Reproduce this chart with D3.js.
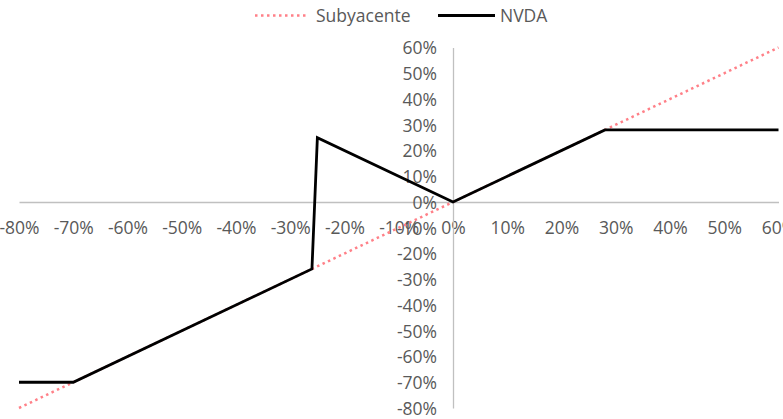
<!DOCTYPE html>
<html>
<head>
<meta charset="utf-8">
<script src="https://cdn.jsdelivr.net/npm/d3@7/dist/d3.min.js"></script>
<style>
  html, body { margin: 0; padding: 0; background: #fff; }
  svg { display: block; font-family: "Open Sans", sans-serif; }
</style>
</head>
<body>
<svg id="chart" width="783" height="419"></svg>
<script>
// Data (percent)
const xTicks = [-80, -70, -60, -50, -40, -30, -20, -10, 0, 10, 20, 30, 40, 50, 60];
const yTicks = [-80, -70, -60, -50, -40, -30, -20, -10, 0, 10, 20, 30, 40, 50, 60];
const subyacenteX = [-80, 60];
const subyacenteY = [-80, 60];
const nvdaX = [-80, -70, -26, -25, 0, 28, 60];
const nvdaY = [-70, -70, -26, 25, 0, 28, 28];
const seriesNames = ["Subyacente", "NVDA"];

const svg = d3.select("#chart");
const x = d3.scaleLinear().domain([-80, 60]).range([19, 778.5]);
const y = d3.scaleLinear().domain([-80, 60]).range([408, 47.5]);
const fmt = d => d + "%";
const textColor = "#595959";
const axisColor = "#c0c0c0";
const fontSize = "17.5px";

// x-axis line at y=0
const xAxis = svg.append("g").attr("transform", `translate(0,${y(0)})`)
  .call(d3.axisBottom(x).tickValues(xTicks).tickSize(0).tickPadding(20).tickFormat(fmt));
xAxis.select(".domain").attr("stroke", axisColor).attr("stroke-width", 1.3);
xAxis.selectAll("text").attr("fill", textColor).style("font-size", fontSize)
  .style("font-family", "'Open Sans', sans-serif");

// y-axis line at x=0
const yAxis = svg.append("g").attr("transform", `translate(${x(0)},0)`)
  .call(d3.axisLeft(y).tickValues(yTicks).tickSize(0).tickPadding(16).tickFormat(fmt));
yAxis.select(".domain").attr("stroke", axisColor).attr("stroke-width", 1.3);
yAxis.selectAll("text").attr("fill", textColor).style("font-size", fontSize)
  .style("font-family", "'Open Sans', sans-serif").attr("dy", "0.36em");

const line = d3.line().x(d => x(d[0])).y(d => y(d[1]));
const subData = subyacenteX.map((v, i) => [v, subyacenteY[i]]);
const nvdaData = nvdaX.map((v, i) => [v, nvdaY[i]]);

svg.append("path").datum(subData).attr("d", line)
  .attr("fill", "none").attr("stroke", "#ff8088").attr("stroke-width", 2.5)
  .attr("stroke-dasharray", "2.5,3.5");
svg.append("path").datum(nvdaData).attr("d", line)
  .attr("fill", "none").attr("stroke", "#000").attr("stroke-width", 2.8)
  .attr("stroke-linejoin", "miter");

// Legend
const lg = svg.append("g");
lg.append("line").attr("x1", 255).attr("x2", 307).attr("y1", 15.5).attr("y2", 15.5)
  .attr("stroke", "#ff8088").attr("stroke-width", 2.5).attr("stroke-dasharray", "2.5,3.5");
lg.append("text").attr("x", 316).attr("y", 15.5).attr("dy", "0.36em")
  .attr("fill", textColor).style("font-size", fontSize).text(seriesNames[0]);
lg.append("line").attr("x1", 438).attr("x2", 495).attr("y1", 15.5).attr("y2", 15.5)
  .attr("stroke", "#000").attr("stroke-width", 2.8);
lg.append("text").attr("x", 500).attr("y", 15.5).attr("dy", "0.36em")
  .attr("fill", textColor).style("font-size", fontSize).text(seriesNames[1]);
</script>
</body>
</html>
